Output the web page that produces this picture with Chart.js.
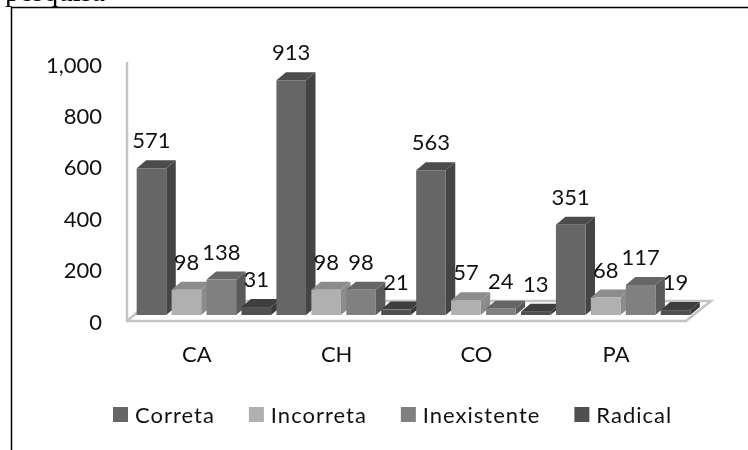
<!DOCTYPE html>
<html>
<head>
<meta charset="utf-8">
<title>Respostas</title>
<script src="https://cdn.jsdelivr.net/npm/chart.js@4"></script>
<style>
  html, body { margin: 0; padding: 0; background: #fff; }
  canvas { display: block; }
</style>
</head>
<body>
<canvas id="chartjs-0" width="748" height="450"></canvas>
<script>
var categories = ["CA", "CH", "CO", "PA"];
var seriesNames = ["Correta", "Incorreta", "Inexistente", "Radical"];
var correta = [571, 913, 563, 351];
var incorreta = [98, 98, 57, 68];
var inexistente = [138, 98, 24, 117];
var radical = [31, 21, 13, 19];

var frontColors = ["#666666", "#b0b0b0", "#808080", "#505050"];
var sideColors = ["#444444", "#8c8c8c", "#5a5a5a", "#3a3a3a"];
var topColors = ["#4c4c4c", "#8c8c8c", "#666666", "#3e3e3e"];

var fontName = "Lato";
var barShiftX = 7;
var barShiftY = -6;
var depthX = 9.5;
var depthY = 8;

// page heading cut by the top edge and the frame around the chart
var framePlugin = {
  id: "frame",
  beforeDraw: function (chart) {
    var ctx = chart.ctx;
    ctx.save();
    ctx.fillStyle = "#000";
    ctx.font = "29px 'Liberation Serif'";
    ctx.textBaseline = "alphabetic";
    ctx.fillText("pesquisa", 5, 1);
    ctx.strokeStyle = "#000";
    ctx.lineWidth = 1.5;
    ctx.beginPath();
    ctx.moveTo(748, 7.5);
    ctx.lineTo(11.5, 7.5);
    ctx.lineTo(11.5, 450);
    ctx.stroke();
    ctx.restore();
  }
};

// floor, wall line and the depth faces of the bars
var depthPlugin = {
  id: "depth",
  beforeDatasetsDraw: function (chart) {
    var ctx = chart.ctx;
    var area = chart.chartArea;

    ctx.save();
    ctx.strokeStyle = "#c4c4c4";
    ctx.lineWidth = 2.5;
    ctx.beginPath();
    ctx.moveTo(area.left, area.top - 2);
    ctx.lineTo(area.left, area.bottom);
    ctx.lineTo(area.right, area.bottom);
    ctx.lineTo(area.right + 25, area.bottom - 20);
    ctx.lineTo(area.left + 24, area.bottom - 20);
    ctx.lineTo(area.left, area.bottom);
    ctx.stroke();

    ctx.translate(barShiftX, barShiftY);
    for (var c = 0; c < categories.length; c++) {
      for (var s = 0; s < seriesNames.length; s++) {
        var bar = chart.getDatasetMeta(s).data[c];
        var left = bar.x - bar.width / 2;
        var right = bar.x + bar.width / 2;

        ctx.fillStyle = sideColors[s];
        ctx.beginPath();
        ctx.moveTo(right, bar.y);
        ctx.lineTo(right + depthX, bar.y - depthY);
        ctx.lineTo(right + depthX, bar.base - depthY);
        ctx.lineTo(right, bar.base);
        ctx.fill();

        ctx.fillStyle = topColors[s];
        ctx.beginPath();
        ctx.moveTo(left, bar.y);
        ctx.lineTo(left + depthX, bar.y - depthY);
        ctx.lineTo(right + depthX, bar.y - depthY);
        ctx.lineTo(right, bar.y);
        ctx.fill();
      }
    }
    ctx.restore();

    // the library draws the front faces next, with the same shift
    ctx.save();
    ctx.translate(barShiftX, barShiftY);
  },
  afterDatasetsDraw: function (chart) {
    var ctx = chart.ctx;
    ctx.restore();

    ctx.save();
    ctx.fillStyle = "#111";
    ctx.font = "22px " + fontName;
    ctx.textAlign = "center";
    ctx.textBaseline = "middle";
    for (var s = 0; s < seriesNames.length; s++) {
      var meta = chart.getDatasetMeta(s);
      var values = chart.data.datasets[s].data;
      for (var c = 0; c < values.length; c++) {
        var bar = meta.data[c];
        ctx.fillText(values[c], bar.x + barShiftX, bar.y + barShiftY - 27);
      }
    }
    ctx.restore();
  }
};

// legend row under the chart, letters slightly spaced
var legendPlugin = {
  id: "legendRow",
  afterDraw: function (chart) {
    var ctx = chart.ctx;
    var x = 113;
    ctx.save();
    ctx.font = "22px " + fontName;
    ctx.letterSpacing = "1px";
    ctx.textBaseline = "middle";
    for (var s = 0; s < seriesNames.length; s++) {
      ctx.fillStyle = frontColors[s];
      ctx.fillRect(x, 407, 15, 15);
      ctx.fillStyle = "#111";
      ctx.fillText(seriesNames[s], x + 22, 416);
      x += 22 + ctx.measureText(seriesNames[s]).width + 34;
    }
    ctx.restore();
  }
};

var ctx0 = document.getElementById("chartjs-0");
var myChart = new Chart(ctx0, {
  type: "bar",
  data: {
    labels: categories,
    datasets: [
      { label: seriesNames[0], data: correta, backgroundColor: frontColors[0] },
      { label: seriesNames[1], data: incorreta, backgroundColor: frontColors[1] },
      { label: seriesNames[2], data: inexistente, backgroundColor: frontColors[2] },
      { label: seriesNames[3], data: radical, backgroundColor: frontColors[3] },
    ],
  },
  options: {
    responsive: false,
    animation: false,
    clip: false,
    barPercentage: 0.847,
    categoryPercentage: 1,
    layout: { padding: { left: 0, right: 62, top: 64, bottom: 0 } },
    plugins: {
      legend: { display: false },
      tooltip: { enabled: false },
    },
    scales: {
      x: {
        grid: { display: false, drawTicks: false },
        border: { display: false },
        afterFit: function (scale) { scale.height = 129; },
        ticks: {
          padding: 21,
          color: "#111",
          font: { family: fontName, size: 22 },
        },
      },
      y: {
        min: 0,
        max: 1000,
        grid: { display: false, drawTicks: false },
        border: { display: false },
        afterFit: function (scale) { scale.width = 127; },
        ticks: {
          stepSize: 200,
          padding: 25,
          labelOffset: 1.5,
          color: "#111",
          font: { family: fontName, size: 22 },
        },
      },
    },
  },
  plugins: [framePlugin, depthPlugin, legendPlugin],
});
</script>
</body>
</html>
